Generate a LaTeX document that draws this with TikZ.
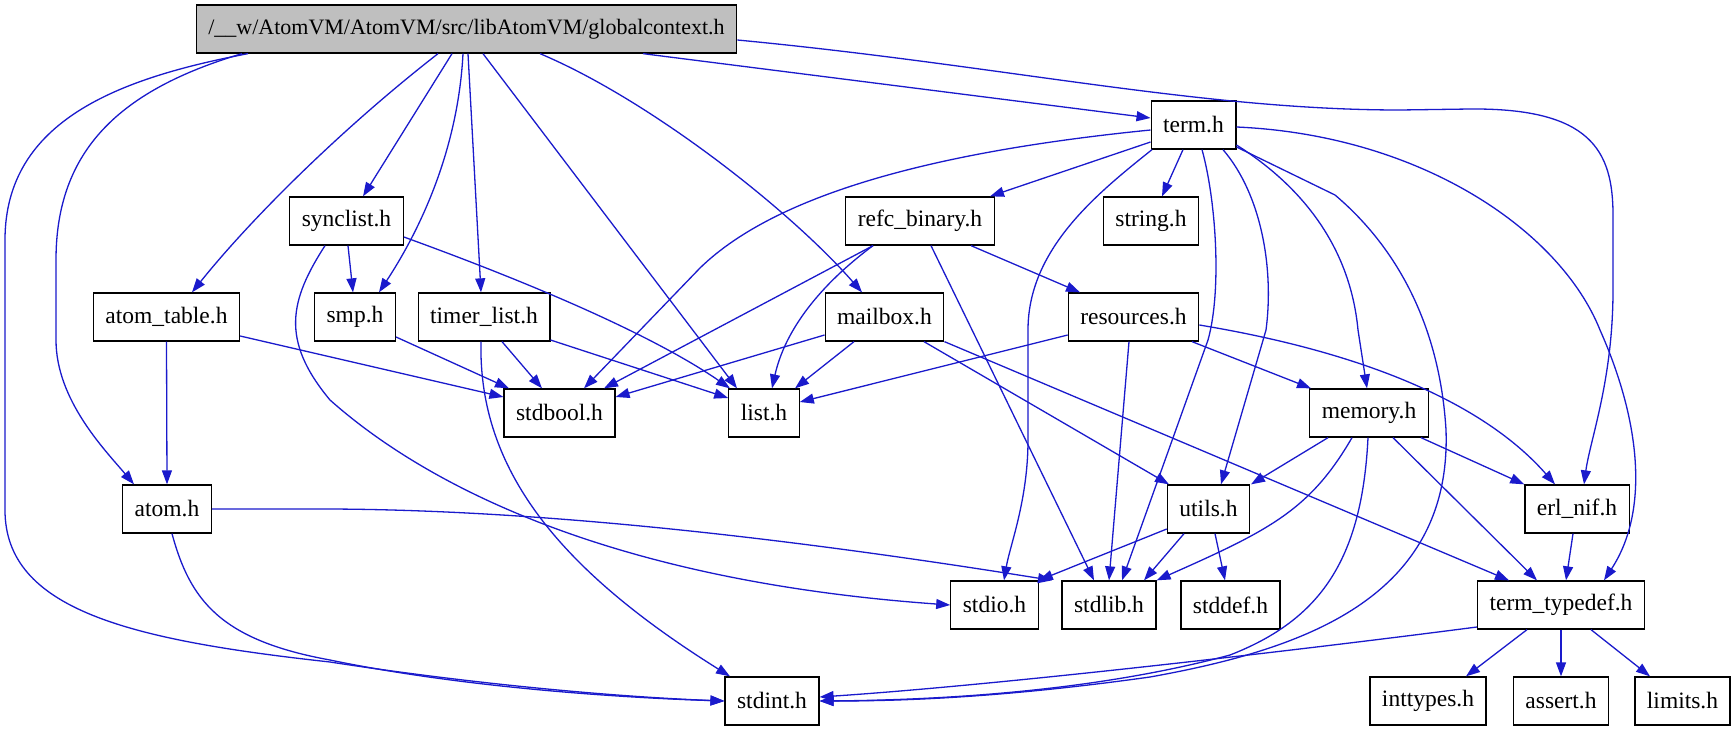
\documentclass[tikz,border=0pt]{standalone}
\usepackage{fontspec}
\setmainfont{Liberation Serif}
\usetikzlibrary{arrows.meta}
\definecolor{depblue}{HTML}{1A1ACC}
\definecolor{curgray}{HTML}{BFBFBF}

\begin{document}
\begin{tikzpicture}[x=1pt,y=-1pt,
  inc/.style={draw=black,line width=1.3pt,minimum height=48pt,inner xsep=12pt,inner ysep=0pt,
    font=\fontsize{23.5}{28}\selectfont},
  cur/.style={inc,fill=curgray,font=\fontsize{22}{26}\selectfont},
  dep/.style={draw=depblue,line width=1.3pt,-{Stealth[length=14pt,width=10pt,inset=0pt]}},
  deps/.style={every edge/.style={dep}}]
 \useasboundingbox[fill=white] (0,0) rectangle (1735,731);
 \node[cur] (main) at (466.5,29) {/\_\_w/AtomVM/AtomVM/src/libAtomVM/globalcontext.h};
 \node[inc] (term) at (1193.5,125) {term.h};
 \node[inc] (string) at (1151,221) {string.h};
 \node[inc] (refc) at (920,221) {refc\_binary.h};
 \node[inc] (synclist) at (346.5,221) {synclist.h};
 \node[inc] (atomtable) at (166.5,317) {atom\_table.h};
 \node[inc] (smp) at (355,317) {smp.h};
 \node[inc] (timerlist) at (484,317) {timer\_list.h};
 \node[inc] (mailbox) at (884.5,317) {mailbox.h};
 \node[inc] (resources) at (1133.5,317) {resources.h};
 \node[inc] (stdbool) at (559.5,413) {stdbool.h};
 \node[inc] (list) at (764,413) {list.h};
 \node[inc] (memory) at (1369,413) {memory.h};
 \node[inc] (atom) at (167,509) {atom.h};
 \node[inc] (utils) at (1208.5,509) {utils.h};
 \node[inc] (erlnif) at (1577,509) {erl\_nif.h};
 \node[inc] (stdio) at (994.5,605) {stdio.h};
 \node[inc] (stdlib) at (1109,605) {stdlib.h};
 \node[inc] (stddef) at (1230.5,605) {stddef.h};
 \node[inc] (termtypedef) at (1561,605) {term\_typedef.h};
 \node[inc] (stdint) at (772,701) {stdint.h};
 \node[inc] (inttypes) at (1428,701) {inttypes.h};
 \node[inc] (assert) at (1561,701) {assert.h};
 \node[inc] (limits) at (1682.5,701) {limits.h};

 \draw[dep] (248,0 |- main.south) .. controls (120,78) and (5,120) .. (5,240) -- (5,510)
   .. controls (5,610) and (130,640) .. (330,662) .. controls (480,685) and (620,697) .. (stdint.west);
 \draw[dep] (242,0 |- main.south) .. controls (120,90) and (56,150) .. (56,260) -- (56,340)
   .. controls (56,400) and (105,450) .. (134,0 |- atom.north);
 \draw[dep] (438,0 |- main.south) .. controls (340,130) and (250,220) .. (192,0 |- atomtable.north);
 \draw[dep] (463,0 |- main.south) .. controls (458,150) and (420,230) .. (379,0 |- smp.north);
 \draw[dep] (540,0 |- main.south) .. controls (650,100) and (790,210) .. (862,0 |- mailbox.north);
 \draw[dep] (main.east |- 0,40) .. controls (1000,65) and (1200,110) .. (1400,110) -- (1470,109)
   .. controls (1590,108) and (1613,150) .. (1613,215) -- (1613,290)
   .. controls (1613,380) and (1590,440) .. (1584,0 |- erlnif.north);
 \path[deps]
   (452,0 |- main.south) edge (363,0 |- synclist.north)
   (468,0 |- main.south) edge (481,0 |- timerlist.north)
   (483,0 |- main.south) edge (737,0 |- list.north)
   (643,0 |- main.south) edge (term.west |- 0,118);

 \draw[dep] (term.west |- 0,130) .. controls (950,150) and (780,190) .. (700,268) -- (584,0 |- stdbool.north);
 \draw[dep] (1152,0 |- term.south) .. controls (1095,195) and (1028,250) .. (1028,330) -- (1028,440)
   .. controls (1028,500) and (1010,545) .. (1004,0 |- stdio.north);
 \draw[dep] (1202,0 |- term.south) .. controls (1216,200) and (1222,290) .. (1208,340) -- (1122,0 |- stdlib.north);
 \draw[dep] (1223,0 |- term.south) .. controls (1262,195) and (1274,270) .. (1266,330) -- (1221,0 |- utils.north);
 \draw[dep] (term.east |- 0,145) .. controls (1300,185) and (1350,245) .. (1358,330) -- (1367,0 |- memory.north);
 \draw[dep] (term.east |- 0,147) -- (1335,195) .. controls (1400,250) and (1440,330) .. (1446,430)
   .. controls (1452,600) and (1300,650) .. (1150,677) .. controls (1000,698) and (900,701) .. (stdint.east);
 \draw[dep] (term.east |- 0,127) .. controls (1420,135) and (1560,230) .. (1600,330)
   .. controls (1640,420) and (1650,510) .. (1604,0 |- termtypedef.north);
 \path[deps]
   (term.west |- 0,142) edge (990,0 |- refc.north)
   (1183,0 |- term.south) edge (1162,0 |- string.north);

 \draw[dep] (873,0 |- refc.south) .. controls (820,285) and (785,330) .. (772,0 |- list.north);
 \path[deps]
   (873,0 |- refc.south) edge (604,0 |- stdbool.north)
   (931,0 |- refc.south) edge (1094,0 |- stdlib.north)
   (971,0 |- refc.south) edge (1080,0 |- resources.north);

 \path[deps]
   (mailbox.west |- 0,335) edge (stdbool.east |- 0,397)
   (854,0 |- mailbox.south) edge (795,0 |- list.north)
   (924,0 |- mailbox.south) edge (1169,0 |- utils.north)
   (mailbox.south east) edge (1509,0 |- termtypedef.north);

 \draw[dep] (resources.east |- 0,325) .. controls (1380,355) and (1490,410) .. (1555,0 |- erlnif.north);
 \path[deps]
   (resources.west |- 0,335) edge (list.east |- 0,402)
   (1129,0 |- resources.south) edge (1109,0 |- stdlib.north)
   (1192,0 |- resources.south) edge (1311,0 |- memory.north);

 \draw[dep] (synclist.east |- 0,237) .. controls (550,290) and (660,340) .. (730,0 |- list.north);
 \draw[dep] (325,0 |- synclist.south) .. controls (290,300) and (280,340) .. (330,400)
   .. controls (420,480) and (600,580) .. (stdio.west);
 \path[deps] (348,0 |- synclist.south) edge (353,0 |- smp.north);

 \path[deps]
   (atomtable.south) edge (atom.north)
   (atomtable.east |- 0,336) edge (stdbool.west |- 0,397)
   (smp.east |- 0,337) edge (509,0 |- stdbool.north)
   (502,0 |- timerlist.south) edge (542,0 |- stdbool.north)
   (timerlist.east |- 0,340) edge (list.west |- 0,398);
 \draw[dep] (481,0 |- timerlist.south) .. controls (478,470) and (560,570) .. (730,0 |- stdint.north);

 \draw[dep] (atom.east) -- (330,509) .. controls (550,510) and (800,540) .. (1052,0 |- stdlib.north);
 \draw[dep] (172,0 |- atom.south) .. controls (190,600) and (220,640) .. (330,660)
   .. controls (450,685) and (600,697) .. (stdint.west);

 \draw[dep] (1352,0 |- memory.south) .. controls (1310,510) and (1270,530) .. (stdlib.north east);
 \draw[dep] (1368,0 |- memory.south) .. controls (1362,560) and (1320,620) .. (1230,655)
   .. controls (1100,690) and (950,700) .. (stdint.east);
 \path[deps]
   (1328,0 |- memory.south) edge (1251,0 |- utils.north)
   (1393,0 |- memory.south) edge (1537,0 |- termtypedef.north)
   (1421,0 |- memory.south) edge (erlnif.north west);

 \path[deps]
   (utils.west |- 0,529) edge (stdio.north east)
   (1184,0 |- utils.south) edge (1144,0 |- stdlib.north)
   (1215,0 |- utils.south) edge (1225,0 |- stddef.north)
   (1573,0 |- erlnif.south) edge (1566,0 |- termtypedef.north);

 \draw[dep] (termtypedef.west |- 0,627) .. controls (1300,650) and (1000,685) .. (stdint.east |- 0,697);
 \path[deps]
   (1527,0 |- termtypedef.south) edge (1466,0 |- inttypes.north)
   (termtypedef.south) edge (assert.north)
   (1591,0 |- termtypedef.south) edge (1650,0 |- limits.north);
\end{tikzpicture}
\end{document}
